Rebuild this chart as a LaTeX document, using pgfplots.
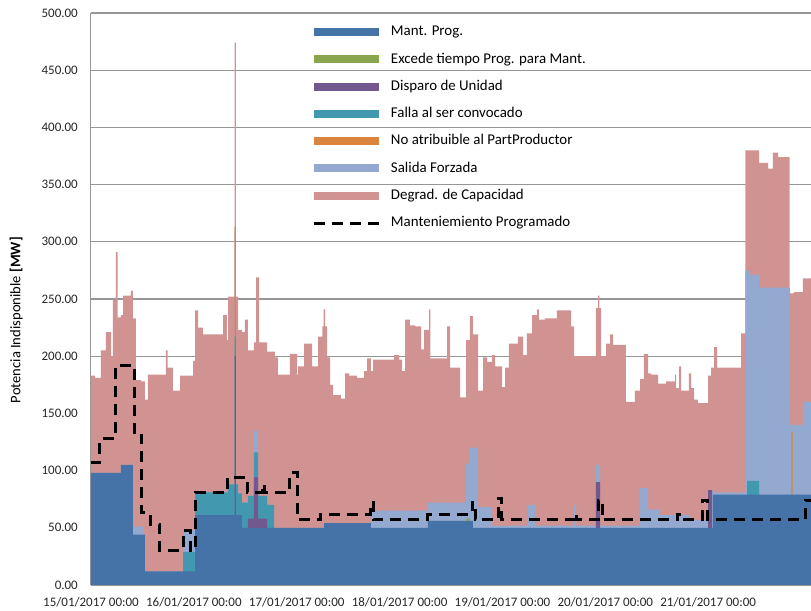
\documentclass[border=0pt]{standalone}
\usepackage{fontspec}
\setmainfont{Carlito}
\usepackage{pgfplots}
\usepackage{pgfplotstable}
\pgfplotsset{compat=1.18}
\definecolor{cMant}{RGB}{69,114,167}
\definecolor{cExc}{RGB}{137,165,78}
\definecolor{cDisp}{RGB}{113,88,143}
\definecolor{cFalla}{RGB}{65,152,175}
\definecolor{cNoat}{RGB}{219,132,61}
\definecolor{cSal}{RGB}{147,169,207}
\definecolor{cDeg}{RGB}{209,147,146}
\definecolor{cGrid}{RGB}{150,150,150}
\pgfplotsset{
  area legend/.style={legend image code/.code={\fill[##1] (0bp,-4bp) rectangle (65bp,4bp);}},
  mylinelegend/.style={legend image code/.code={\draw[##1] (0bp,0bp) -- (65bp,0bp);}},
}
% Degrad. de Capacidad (total height of stack)
\pgfplotstableread{
h v
0 183
0.9 181
2.3 205
3.5 221
4.7 200
5.1 249
5.8 291
6.2 234
7.0 236
7.5 253
9.3 257
9.8 233
10.5 179
11.7 178
12.6 162
13.3 184
17.5 205
17.9 190
19.1 170
20.8 183
23.8 196
24.3 240
25.0 225
26.1 219
30.8 236
31.7 214
32.0 252
33.5 474
33.8 252
34.3 223
35.2 221
35.9 232
36.6 205
38.0 212
38.5 269
39.2 212
41.1 204
42.9 199
43.6 184
46.4 202
48.1 184
48.3 191
49.7 211
51.6 191
53.0 217
54.0 226
54.3 241
54.6 226
55.1 199
55.8 175
56.5 166
58.3 163
59.3 185
60.2 183
62.1 181
63.7 187
64.4 198
65.3 187
65.8 197
70.7 201
71.9 197
72.6 187
73.3 232
74.4 227
75.6 226
77.0 206
77.7 223
78.9 241
79.2 198
83.1 226
83.8 190
86.1 164
87.5 214
88.4 235
89.1 219
90.3 170
91.5 199
92.4 195
93.6 201
94.3 191
95.9 173
96.6 190
97.5 211
99.6 217
100.8 201
101.7 220
102.9 236
104.1 241
104.5 232
105.9 233
108.7 240
112.0 226
112.7 200
117.8 242
118.3 253
118.6 242
119.0 200
120.2 211
121.1 219
121.8 210
124.8 160
126.9 170
128.1 180
129.0 202
130.0 185
130.7 184
132.3 176
134.2 178
136.3 184
136.5 172
137.2 191
137.7 170
139.5 185
140.0 172
140.7 162
141.6 159
144.0 183
144.7 190
145.4 208
146.1 190
151.7 220
152.7 380
155.9 369
158.0 364
159.1 378
160.3 374
163.0 255
164.0 256
166.1 268
168.0 268
}\tD
% Salida Forzada (top of stack below degradation)
\pgfplotstableread{
h v
0 98
7.0 105
9.8 51
12.1 44
12.6 12
21.5 48
24.3 81
32.0 88
33.5 313
33.8 88
34.3 80
35.2 72
36.6 78
38.0 135
39.0 78
41.1 70
42.7 50
54.4 54
65.3 65
78.6 72
87.5 106
88.4 120
90.3 68
93.6 52
102.0 70
103.6 52
112.7 70
113.2 52
117.8 105
118.8 52
128.1 85
130.0 66
132.8 61
139.8 57
144.0 83
145.1 81
152.7 275
153.8 271
155.9 260
163.1 140
166.1 160
168.0 160
}\tS
% No atribuible al PartProductor
\pgfplotstableread{
h v
0 0
33.5 313
33.8 0
163.4 134
163.7 0
168 0
}\tO
% Falla al ser convocado
\pgfplotstableread{
h v
0 0
21.5 29
24.3 81
32.0 88
33.5 217
33.8 88
34.3 80
35.2 72
36.6 78
38.0 116
39.0 78
41.1 70
42.7 0
153.1 91
155.9 0
168.0 0
}\tT
% Disparo de Unidad
\pgfplotstableread{
h v
0 0
33.5 200
33.8 0
36.6 58
38.0 94
39.0 58
41.1 0
117.8 90
118.8 0
144.0 83
144.9 0
168 0
}\tP
% Excede tiempo Prog. para Mant.
\pgfplotstableread{
h v
0 0
87.6 58
88.4 0
168 0
}\tG
% Mant. Prog.
\pgfplotstableread{
h v
0 98
7.0 105
9.8 44
12.6 12
24.3 61
35.2 50
54.4 54
65.3 50
78.6 56
89.1 50
145.1 79
168.0 79
}\tB
% Manteniemiento Programado (dashed)
\pgfplotstableread{
h v
0 107
2.1 128
5.8 192
10.1 131
11.9 63
13.8 53
16.1 30
21.5 48
23.3 30
24.3 81
31.8 94
36.4 81
40.0 88
40.5 81
46.4 98
48.1 57
53.6 62
65.1 72
65.8 57
78.4 62
88.9 72
89.6 57
95.0 76
95.7 57
112.7 62
113.2 57
118.3 74
119.3 57
136.8 62
137.3 57
142.7 74
143.9 57
166.6 74
168.0 74
}\tM
\begin{document}
\begin{tikzpicture}
\begin{axis}[
  width=720bp, height=572bp, scale only axis,
  xmin=0, xmax=168, ymin=0, ymax=500,
  axis x line*=bottom, axis y line*=left,
  axis line style={cGrid, line width=1bp},
  ytick={0,50,...,500},
  ymajorgrids, grid style={cGrid, line width=1.2bp},
  xtick={0,24,...,144},
  xticklabels={15/01/2017 00:00,16/01/2017 00:00,17/01/2017 00:00,18/01/2017 00:00,19/01/2017 00:00,20/01/2017 00:00,21/01/2017 00:00},
  major tick length=0pt,
  /pgf/number format/assume math mode=true,
  yticklabel style={/pgf/number format/fixed, /pgf/number format/fixed zerofill, /pgf/number format/precision=2},
  tick label style={font=\fontsize{13bp}{15bp}\selectfont, inner sep=0pt, text=black!85},
  yticklabel style={anchor=east, xshift=-13bp},
  xticklabel style={anchor=north, yshift=-12bp},
  ylabel={Potencia Indisponible \textbf{[MW]}},
  ylabel style={at={(axis description cs:-0.104,0.463)}, anchor=center, font=\fontsize{14.6bp}{17bp}\selectfont, inner sep=0pt},
  legend cell align=left,
  legend style={draw=none, fill=none, at={(axis description cs:0.3083,0.9786)}, anchor=north west,
    inner sep=0pt, outer sep=0pt, row sep=13.8bp, font=\fontsize{14.9bp}{17bp}\selectfont,
    nodes={inner sep=0pt, text height=10.5bp, text depth=3bp},
    /tikz/every odd column/.append style={column sep=10bp}},
]
\addplot[const plot, fill=cDeg, draw=none, forget plot] table {\tD} \closedcycle;
\addplot[const plot, fill=cSal, draw=none, forget plot] table {\tS} \closedcycle;
\addplot[const plot, fill=cNoat, draw=none, forget plot] table {\tO} \closedcycle;
\addplot[const plot, fill=cFalla, draw=none, forget plot] table {\tT} \closedcycle;
\addplot[const plot, fill=cDisp, draw=none, forget plot] table {\tP} \closedcycle;
\addplot[const plot, fill=cExc, draw=none, forget plot] table {\tG} \closedcycle;
\addplot[const plot, fill=cMant, draw=none, forget plot] table {\tB} \closedcycle;
\addplot[const plot, black, line width=3bp, dash pattern=on 11bp off 7bp, forget plot] table {\tM};
\addlegendimage{area legend, fill=cMant, draw=none}
\addlegendentry{Mant. Prog.}
\addlegendimage{area legend, fill=cExc, draw=none}
\addlegendentry{Excede tiempo Prog. para Mant.}
\addlegendimage{area legend, fill=cDisp, draw=none}
\addlegendentry{Disparo de Unidad}
\addlegendimage{area legend, fill=cFalla, draw=none}
\addlegendentry{Falla al ser convocado}
\addlegendimage{area legend, fill=cNoat, draw=none}
\addlegendentry{No atribuible al PartProductor}
\addlegendimage{area legend, fill=cSal, draw=none}
\addlegendentry{Salida Forzada}
\addlegendimage{area legend, fill=cDeg, draw=none}
\addlegendentry{Degrad. de Capacidad}
\addlegendimage{mylinelegend, black, line width=3bp, dash pattern=on 11bp off 7bp}
\addlegendentry{Manteniemiento Programado}
\end{axis}
\pgfresetboundingbox
\path[use as bounding box] (-91bp,-26bp) rectangle (720bp,585bp);
\end{tikzpicture}
\end{document}
